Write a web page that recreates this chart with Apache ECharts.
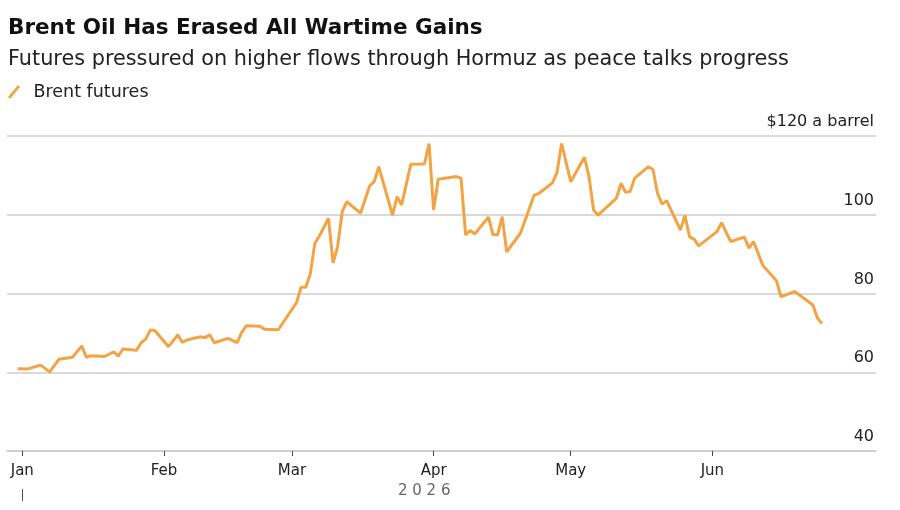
<!DOCTYPE html>
<html>
<head>
<meta charset="utf-8">
<script src="https://cdn.jsdelivr.net/npm/echarts@6/dist/echarts.min.js"></script>
<style>
  html, body { margin: 0; padding: 0; background: #fff; }
  #chart { width: 900px; height: 510px; }
</style>
</head>
<body>
<div id="chart"></div>
<script>
// Brent futures, daily settle ($/bbl)
const dates = [
  "2025-12-31", "2026-01-02", "2026-01-05", "2026-01-07", "2026-01-09", "2026-01-12",
  "2026-01-14", "2026-01-15", "2026-01-16", "2026-01-19", "2026-01-21", "2026-01-22",
  "2026-01-23", "2026-01-26", "2026-01-27", "2026-01-28", "2026-01-29", "2026-01-30",
  "2026-02-02", "2026-02-04", "2026-02-05", "2026-02-06", "2026-02-09", "2026-02-10",
  "2026-02-11", "2026-02-12", "2026-02-15", "2026-02-17", "2026-02-18", "2026-02-19",
  "2026-02-22", "2026-02-23", "2026-02-26", "2026-03-02", "2026-03-03", "2026-03-04",
  "2026-03-05", "2026-03-06", "2026-03-07", "2026-03-09", "2026-03-10", "2026-03-11",
  "2026-03-12", "2026-03-13", "2026-03-16", "2026-03-18", "2026-03-19", "2026-03-20",
  "2026-03-23", "2026-03-24", "2026-03-25", "2026-03-27", "2026-03-30", "2026-03-31",
  "2026-04-01", "2026-04-02", "2026-04-06", "2026-04-07", "2026-04-08", "2026-04-09",
  "2026-04-10", "2026-04-13", "2026-04-14", "2026-04-15", "2026-04-16", "2026-04-17",
  "2026-04-20", "2026-04-23", "2026-04-24", "2026-04-27", "2026-04-28", "2026-04-29",
  "2026-05-01", "2026-05-04", "2026-05-05", "2026-05-06", "2026-05-07", "2026-05-11",
  "2026-05-12", "2026-05-13", "2026-05-14", "2026-05-15", "2026-05-18", "2026-05-19",
  "2026-05-20", "2026-05-21", "2026-05-22", "2026-05-25", "2026-05-26", "2026-05-27",
  "2026-05-28", "2026-05-29", "2026-06-02", "2026-06-03", "2026-06-05", "2026-06-08",
  "2026-06-09", "2026-06-10", "2026-06-12", "2026-06-15", "2026-06-16", "2026-06-19",
  "2026-06-23", "2026-06-24", "2026-06-25"
];
const brent = [
  60.9, 60.8, 61.8, 60.1, 63.3, 63.8,
  66.7, 63.8, 64.2, 64.0, 65.2, 64.1,
  65.9, 65.6, 67.5, 68.4, 70.7, 70.6,
  66.5, 69.5, 67.6, 68.2, 69.0, 68.8,
  69.5, 67.5, 68.6, 67.5, 70.1, 71.8,
  71.7, 70.9, 70.8, 77.7, 81.6, 81.6,
  84.9, 92.7, 94.6, 99.1, 87.8, 91.9,
  100.8, 103.3, 100.4, 107.3, 108.4, 112.2,
  99.9, 104.6, 102.5, 112.8, 112.9, 118.1,
  101.2, 109.0, 109.7, 109.3, 94.9, 96.0,
  95.1, 99.4, 94.9, 94.9, 99.5, 90.6,
  95.3, 105.0, 105.4, 108.1, 110.7, 118.1,
  108.4, 114.6, 109.7, 101.2, 99.9, 104.2,
  108.0, 105.7, 105.9, 109.3, 112.2, 111.5,
  105.4, 102.7, 103.6, 96.1, 99.8, 94.4,
  93.8, 92.1, 95.7, 98.0, 93.2, 94.3,
  91.5, 93.2, 87.2, 83.3, 79.2, 80.5,
  77.1, 73.7, 72.4
];
const monthNames = ["Jan", "Feb", "Mar", "Apr", "May", "Jun"];
const monthStarts = monthNames.map((m, i) => Date.UTC(2026, i, 1));

const DAY = 864e5;
const JAN1 = Date.UTC(2026, 0, 1);
const font = "DejaVu Sans";

const chart = echarts.init(document.getElementById("chart"));
chart.setOption({
  backgroundColor: "#fff",
  animation: false,
  textStyle: { fontFamily: font },
  title: {
    text: "Brent Oil Has Erased All Wartime Gains",
    subtext: "Futures pressured on higher flows through Hormuz as peace talks progress",
    left: 3,
    top: 12,
    itemGap: 10,
    textStyle: { fontFamily: font, fontSize: 21.5, fontWeight: "bold", color: "#111" },
    subtextStyle: { fontFamily: font, fontSize: 20.8, color: "#222" }
  },
  legend: {
    left: 3,
    top: 78,
    itemWidth: 13,
    itemHeight: 14,
    icon: "path://M0,12 L10,0 L12,2 L2,14 Z",
    textStyle: { fontFamily: font, fontSize: 17.5, color: "#222", padding: [0, 0, 0, 8] },
    data: ["Brent futures"]
  },
  grid: { left: 7, right: 24, top: 136, bottom: 59 },
  xAxis: {
    type: "value",
    min: JAN1 - 3.35 * DAY,
    max: JAN1 + 186.8 * DAY,
    axisLine: { lineStyle: { color: "#ccc", width: 1.5 } },
    axisTick: { show: true, customValues: monthStarts, length: 5, lineStyle: { color: "#444" } },
    axisLabel: {
      customValues: monthStarts,
      formatter: v => monthNames[new Date(v).getUTCMonth()],
      fontSize: 15,
      color: "#222",
      margin: 13
    },
    splitLine: { show: false }
  },
  yAxis: {
    type: "value",
    position: "right",
    min: 40,
    max: 120,
    interval: 20,
    axisLine: { show: false },
    axisTick: { show: false },
    splitLine: { lineStyle: { color: "#ccc", width: 1.5 } },
    axisLabel: {
      inside: true,
      margin: 2,
      verticalAlign: "bottom",
      padding: [0, 0, 6, 0],
      fontSize: 16,
      color: "#222",
      formatter: v => (v === 120 ? "$120 a barrel" : String(v))
    }
  },
  graphic: [
    {
      type: "text",
      left: 398,
      top: 484,
      style: { text: "2 0 2 6", fontFamily: font, fontSize: 15, fill: "#666" }
    },
    {
      type: "line",
      shape: { x1: 22.5, y1: 489, x2: 22.5, y2: 501 },
      style: { stroke: "#555", lineWidth: 1 }
    }
  ],
  series: [
    {
      name: "Brent futures",
      type: "line",
      data: dates.map((d, i) => [Date.parse(d), brent[i]]),
      showSymbol: false,
      symbol: "none",
      lineStyle: { color: "#F2A444", width: 3 },
      itemStyle: { color: "#F2A444" }
    }
  ]
});
</script>
</body>
</html>
